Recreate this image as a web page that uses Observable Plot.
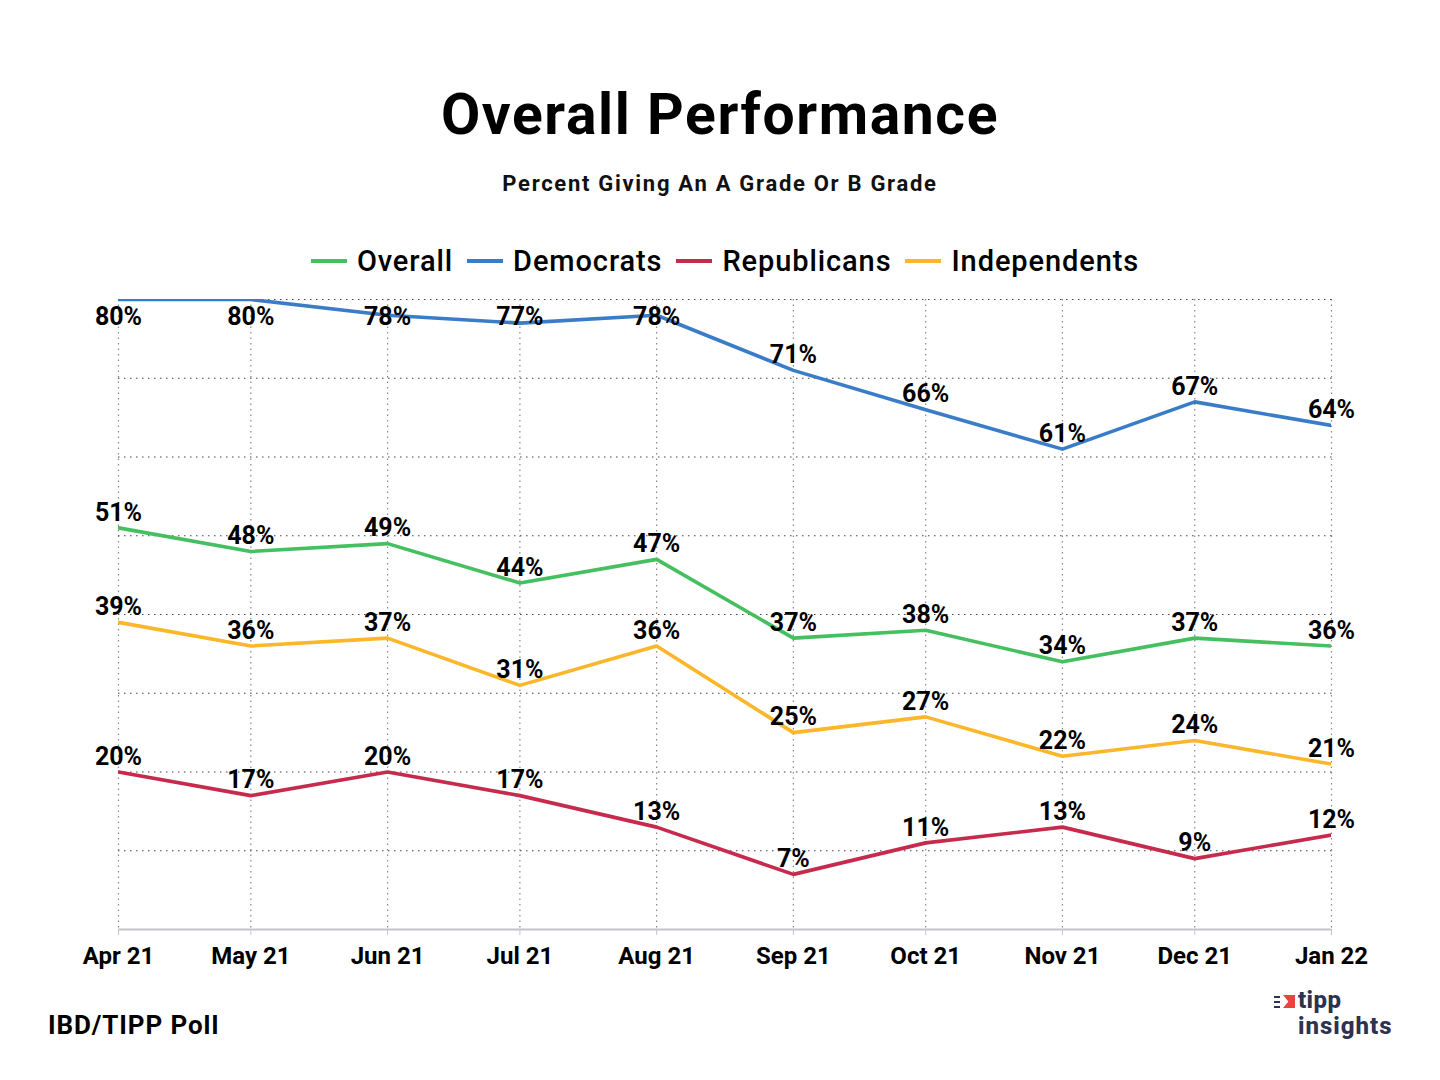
<!DOCTYPE html>
<html>
<head>
<meta charset="utf-8">
<script src="https://cdn.jsdelivr.net/npm/d3@7"></script>
<script src="https://cdn.jsdelivr.net/npm/@observablehq/plot@0.6"></script>
<style>
  html, body { margin: 0; padding: 0; background: #fff; }
  body { font-family: Roboto, "Noto Sans", sans-serif; }
  #page { position: relative; width: 1440px; height: 1080px; overflow: hidden; }
  #title { position: absolute; top: 80px; left: 0; width: 1440px; text-align: center; font-size: 57px; letter-spacing: 1.6px; font-weight: 700; color: #000; line-height: 70px; }
  #subtitle { position: absolute; top: 170px; left: 0; width: 1440px; text-align: center; font-size: 22px; letter-spacing: 1.7px; font-weight: 700; color: #111; line-height: 28px; }
  #legend { position: absolute; top: 243px; left: 0; width: 1450px; display: flex; justify-content: center; gap: 14px; font-size: 29px; letter-spacing: 0.9px; font-weight: 500; color: #000; line-height: 36px; }
  .item { display: flex; align-items: center; gap: 10px; }
  .sw { width: 36px; height: 4px; display: inline-block; }
  #chart { position: absolute; top: 280px; left: 0; }
  #source { position: absolute; top: 1008px; left: 48px; font-size: 26px; letter-spacing: 0.9px; font-weight: 700; color: #000; line-height: 34px; }
  #logo { position: absolute; top: 990px; left: 1274px; width: 150px; height: 52px; }
  #logo .t1 { position: absolute; left: 24px; top: 0px; font-size: 24px; font-weight: 800; color: #2d3152; line-height: 20px; height: 20px; letter-spacing: 0.4px; }
  #logo .t2 { position: absolute; left: 24px; top: 26px; font-size: 24px; font-weight: 800; color: #2d3152; line-height: 20px; height: 20px; letter-spacing: 1px; }
  #logo .flag { position: absolute; left: 9px; top: 5px; width: 12px; height: 13px; background: #e8433f; clip-path: polygon(0 0, 100% 0, 100% 100%, 0 100%, 45% 50%); }
  #logo .m { position: absolute; left: 0; width: 6px; height: 2px; background: #2d3152; }
</style>
</head>
<body>
<div id="page">
  <div id="title">Overall Performance</div>
  <div id="subtitle">Percent Giving An A Grade Or B Grade</div>
  <div id="legend"></div>
  <div id="chart"></div>
  <div id="source">IBD/TIPP Poll</div>
  <div id="logo">
    <span class="m" style="top:6px"></span><span class="m" style="top:11px"></span><span class="m" style="top:16px"></span>
    <span class="flag"></span>
    <span class="t1">tipp</span>
    <span class="t2">insights</span>
  </div>
</div>
<script>
// ---- data ----
const months = ["2021-04-01","2021-05-01","2021-06-01","2021-07-01","2021-08-01","2021-09-01","2021-10-01","2021-11-01","2021-12-01","2022-01-01"];
const tickLabels = ["Apr 21","May 21","Jun 21","Jul 21","Aug 21","Sep 21","Oct 21","Nov 21","Dec 21","Jan 22"];
const seriesNames = ["Overall","Democrats","Republicans","Independents"];
const seriesColors = ["#45bf5f","#3b7cc9","#c62a4c","#fbb62a"];
const overall      = [51,48,49,44,47,37,38,34,37,36];
const democrats    = [80,80,78,77,78,71,66,61,67,64];
const republicans  = [20,17,20,17,13,7,11,13,9,12];
const independents = [39,36,37,31,36,25,27,22,24,21];
const gridValues   = [10,20,30,40,50,60,70,80];

const dates = months.map(m => new Date(m + "T00:00:00Z"));
const seriesValues = [overall, democrats, republicans, independents];
const rows = [];
seriesNames.forEach((name, si) => {
  seriesValues[si].forEach((v, i) => rows.push({series: name, date: dates[i], value: v, label: tickLabels[i]}));
});

// legend
const legend = document.getElementById("legend");
seriesNames.forEach((n, i) => {
  const it = document.createElement("div");
  it.className = "item";
  it.innerHTML = `<span class="sw" style="background:${seriesColors[i]}"></span><span>${n}</span>`;
  legend.appendChild(it);
});

// label placement rule: lift above point, but keep inside the top of the frame
const LIFT = 1.95, TOP_LIMIT = 77.8;
const labelY = d => Math.min(d.value + LIFT, TOP_LIMIT);

const fmt = new Map(dates.map((d, i) => [+d, tickLabels[i]]));

const chart = Plot.plot({
  width: 1440,
  height: 700,
  marginTop: 19,
  marginLeft: 118,
  marginRight: 109,
  marginBottom: 51,
  style: { fontFamily: "Roboto, 'Noto Sans', sans-serif", background: "transparent", overflow: "visible" },
  x: { type: "utc", domain: [dates[0], dates[dates.length - 1]] },
  y: { domain: [0, 80], axis: null },
  color: { domain: seriesNames, range: seriesColors },
  marks: [
    Plot.ruleX(dates, { stroke: "#888", strokeDasharray: "1.5,4", strokeWidth: 1.2 }),
    Plot.ruleY(gridValues, { stroke: "#444", strokeDasharray: "1.5,4.5", strokeWidth: 1.2, insetRight: -4 }),
    Plot.ruleY([0], { stroke: "#c4c4cc", strokeWidth: 1.8 }),
    Plot.axisX(dates, {
      tickFormat: d => fmt.get(+d),
      tickSize: 6,
      tickPadding: 11,
      stroke: "#c4c4cc",
      fontSize: 24,
      fontWeight: 700,
      fill: "#000",
      label: null,
      style: { letterSpacing: "1.2px" }
    }),
    Plot.lineY(rows, { x: "date", y: "value", z: "series", stroke: "series", strokeWidth: 3.6, clip: true }),
    Plot.text(rows, {
      x: "date", y: labelY, text: d => d.value + "%",
      fontSize: 25, fontWeight: 700, fill: "#000", textAnchor: "middle", lineAnchor: "middle",
      style: { letterSpacing: "1.3px" }
    })
  ]
});
document.getElementById("chart").appendChild(chart);
</script>
</body>
</html>
